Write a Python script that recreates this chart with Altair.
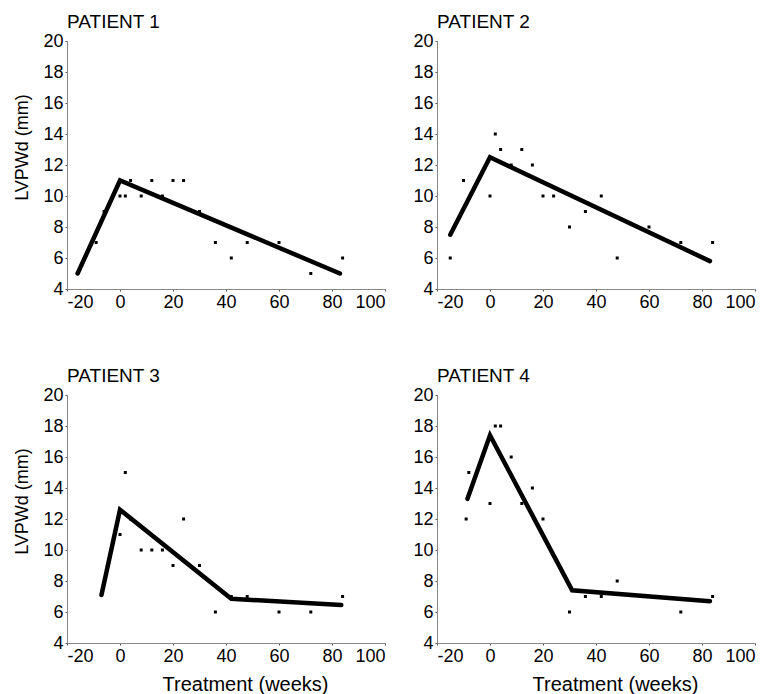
import altair as alt
import pandas as pd

FONT = "Liberation Sans"

titles = ["PATIENT 1", "PATIENT 2", "PATIENT 3", "PATIENT 4"]

p1_weeks = [-9, -6, 0, 2, 4, 8, 12, 16, 20, 24, 30, 36, 42, 48, 60, 72, 84]
p1_vals = [7, 9, 10, 10, 11, 10, 11, 10, 11, 11, 9, 7, 6, 7, 7, 5, 6]
p1_fit_x = [-16, 0, 83]
p1_fit_y = [5, 11, 5]

p2_weeks = [-15, -10, 0, 2, 4, 8, 12, 16, 20, 24, 30, 36, 42, 48, 60, 72, 84]
p2_vals = [6, 11, 10, 14, 13, 12, 13, 12, 10, 10, 8, 9, 10, 6, 8, 7, 7]
p2_fit_x = [-15, 0, 83]
p2_fit_y = [7.5, 12.5, 5.8]

p3_weeks = [0, 2, 4, 8, 12, 16, 20, 24, 30, 36, 42, 48, 60, 72, 84]
p3_vals = [11, 15, 12, 10, 10, 10, 9, 12, 9, 6, 7, 7, 6, 6, 7]
p3_fit_x = [-7, 0, 42, 83.5]
p3_fit_y = [7.1, 12.6, 6.85, 6.45]

p4_weeks = [-9, -8, 0, 2, 4, 8, 12, 16, 20, 30, 36, 42, 48, 60, 72, 84]
p4_vals = [12, 15, 13, 18, 18, 16, 13, 14, 12, 6, 7, 7, 8, 7, 6, 7]
p4_fit_x = [-8.5, 0, 31, 83]
p4_fit_y = [13.3, 17.4, 7.4, 6.7]

x_ticks = [-20, 0, 20, 40, 60, 80, 100]
y_ticks = [4, 6, 8, 10, 12, 14, 16, 18, 20]

W, H = 318, 248
INK = "#000"


def panel(title, wx, wy, fx, fy, left, bottom):
    pts = pd.DataFrame({"week": wx, "val": wy})
    fit = pd.DataFrame({"week": fx, "val": fy, "order": list(range(len(fx)))})

    xaxis = alt.Axis(
        values=x_ticks, grid=False, tickSize=2, tickColor="#555", domainColor="#888",
        labelFont=FONT, labelFontSize=18, labelColor=INK, labelPadding=2,
        labelOverlap=False, labelExpr="datum.value + ''",
        title="Treatment (weeks)" if bottom else None,
        titleFont=FONT, titleFontSize=20, titleFontWeight="normal", titleColor=INK,
        titleX=178, titleY=41, titleAlign="center", titleBaseline="middle",
    )
    yaxis = alt.Axis(
        values=y_ticks, grid=False, tickSize=2, tickColor="#555", domainColor="#888",
        labelFont=FONT, labelFontSize=18, labelColor=INK, labelPadding=2,
        labelOverlap=False, labelExpr="datum.value + ''",
        title="LVPWd (mm)" if left else None,
        titleFont=FONT, titleFontSize=18, titleFontWeight="normal", titleColor=INK,
        titleX=-45, titleY=106, titleAlign="center", titleBaseline="middle", titleAngle=270,
    )
    xs = alt.Scale(domain=[-20, 100], nice=False)
    ys = alt.Scale(domain=[4, 20], nice=False)

    x_enc = alt.X("week:Q", scale=xs, axis=xaxis)
    y_enc = alt.Y("val:Q", scale=ys, axis=yaxis)

    line = alt.Chart(fit).mark_line(color="black", strokeWidth=4.5, strokeCap="round").encode(
        x=x_enc, y=y_enc, order="order:Q",
    )
    dots = alt.Chart(pts).mark_square(color="black", size=9, opacity=1).encode(
        x=x_enc, y=y_enc,
    )
    return alt.layer(line, dots).properties(
        width=W, height=H,
        title=alt.TitleParams(title, anchor="start", frame="group", font=FONT, fontSize=19,
                              fontWeight="normal", color=INK, offset=0),
    )


c1 = panel(titles[0], p1_weeks, p1_vals, p1_fit_x, p1_fit_y, True, False)
c2 = panel(titles[1], p2_weeks, p2_vals, p2_fit_x, p2_fit_y, False, False)
c3 = panel(titles[2], p3_weeks, p3_vals, p3_fit_x, p3_fit_y, True, True)
c4 = panel(titles[3], p4_weeks, p4_vals, p4_fit_x, p4_fit_y, False, True)

chart = alt.concat(
    c1, c2, c3, c4, columns=2,
    spacing={"row": 106, "column": 52}, bounds="flush",
).configure_view(stroke=None).properties(background="white")

chart.save("out.html", embed_options={"renderer": "svg", "actions": False})
